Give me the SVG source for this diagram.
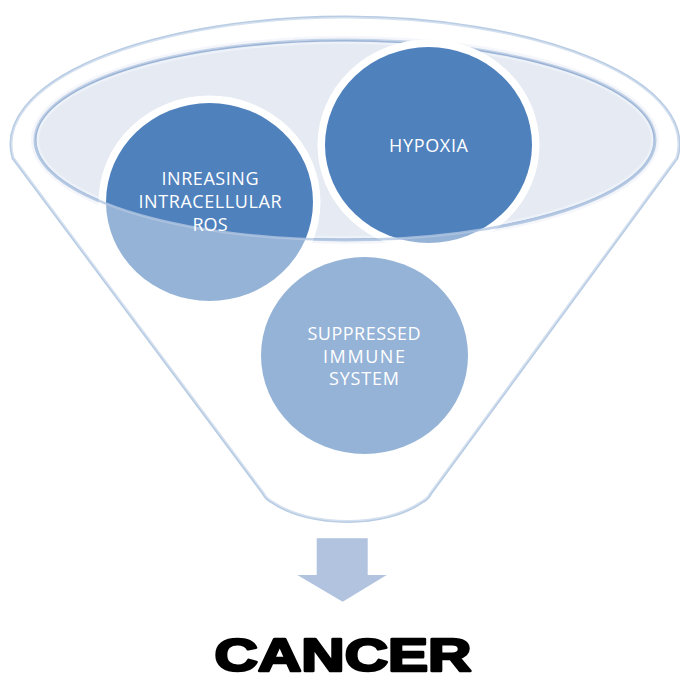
<svg xmlns="http://www.w3.org/2000/svg" width="680" height="681" viewBox="0 0 680 681">
<style>
.lbl{font-family:"Open Sans","Liberation Sans",sans-serif;font-size:18px;fill:#ffffff;text-anchor:middle}
.dark{fill:#4F81BD;stroke:#ffffff;stroke-width:15;paint-order:stroke}
</style>
<rect width="680" height="681" fill="#ffffff"/>
<g id="funnel">
  <path id="funnel-outline" d="M13,158 A334,127 0 1 1 677,158 L431,493 Q428,499 422,502 C385,528 310,528 272,502 Q266,499 263,493 Z" fill="#ffffff" stroke="#B8CCE4" stroke-width="3"/>
  <ellipse cx="345" cy="140" rx="310" ry="100" fill="#E5EAF3" stroke="#EDF1F8" stroke-width="8"/>
  <ellipse cx="345" cy="140" rx="310" ry="100" fill="none" stroke="#9CB5D7" stroke-width="3"/>
</g>
<g id="node-ros">
  <ellipse class="dark" cx="209.5" cy="202" rx="103.5" ry="99"/>
</g>
<g id="node-hypoxia">
  <ellipse class="dark" cx="428.5" cy="145" rx="103.5" ry="98"/>
</g>
<g id="node-immune">
  <ellipse class="dark" cx="364.5" cy="355.5" rx="103.5" ry="98.5"/>
</g>
<path id="funnel-body-overlay" fill-rule="evenodd" fill="#ffffff" fill-opacity="0.4" d="M13,158 A334,127 0 1 1 677,158 L431,493 Q428,499 422,502 C385,528 310,528 272,502 Q266,499 263,493 Z M35,140 A310,100 0 1 0 655,140 A310,100 0 1 0 35,140 Z"/>
<path d="M35,140 A310,100 0 0 0 655,140" fill="none" stroke="#B3C7E2" stroke-width="2.5" opacity="0.8"/>
<g id="labels">
  <text class="lbl" x="428.5" y="151.5" textLength="79">HYPOXIA</text>
  <text class="lbl" x="210" y="185" textLength="97">INREASING</text>
  <text class="lbl" x="210" y="208" textLength="143">INTRACELLULAR</text>
  <text class="lbl" x="210" y="231" textLength="35">ROS</text>
  <text class="lbl" x="364" y="340" textLength="113">SUPPRESSED</text>
  <text class="lbl" x="364" y="362.5" textLength="82">IMMUNE</text>
  <text class="lbl" x="364" y="385" textLength="70">SYSTEM</text>
</g>
<g id="connectors">
  <path d="M316.7,538.3 H367.7 V575 H386.7 L342.7,601.7 L297.3,575 H316.7 Z" fill="#B1C3DF"/>
</g>
<g id="node-cancer">
  <text x="343" y="671" font-family="'Liberation Sans',Arial,sans-serif" font-weight="bold" font-size="47" fill="#000000" stroke="#000000" stroke-width="2.6" stroke-linejoin="round" text-anchor="middle" textLength="257" lengthAdjust="spacingAndGlyphs">CANCER</text>
</g>
</svg>
